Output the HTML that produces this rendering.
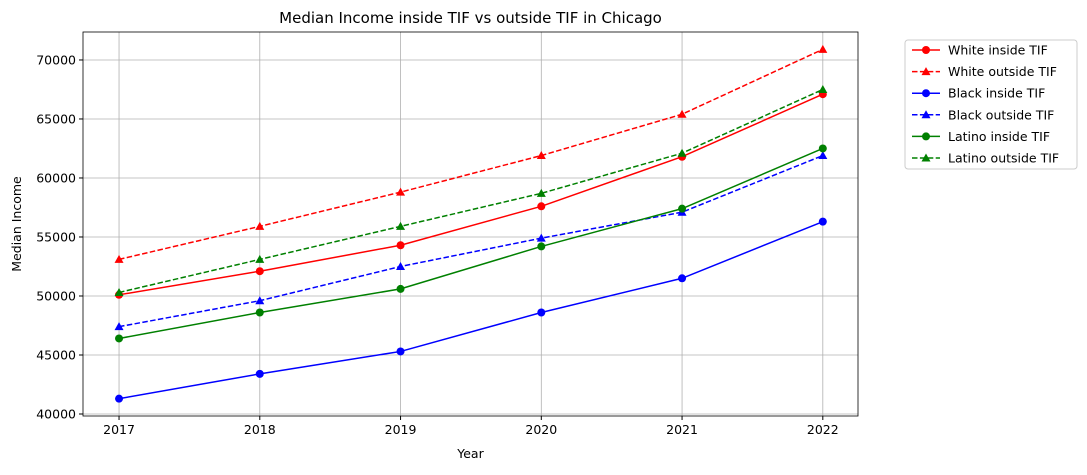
<!DOCTYPE html>
<html><head><meta charset="utf-8"><style>
body{margin:0;background:#fff;font-family:"Liberation Sans","DejaVu Sans",sans-serif}
svg text{font-family:"DejaVu Sans","Liberation Sans",sans-serif}
</style></head><body>
<svg id="chart" width="1087" height="470" xmlns="http://www.w3.org/2000/svg"></svg>
<script>
const years=[2017,2018,2019,2020,2021,2022];
const whiteInside=[50100,52100,54300,57600,61800,67100];
const whiteOutside=[53100,55900,58800,61900,65400,70900];
const blackInside=[41300,43400,45300,48600,51500,56300];
const blackOutside=[47400,49600,52500,54900,57100,61900];
const latinoInside=[46400,48600,50600,54200,57400,62500];
const latinoOutside=[50300,53100,55900,58700,62100,67500];
const yTicks=[40000,45000,50000,55000,60000,65000,70000];
const seriesNames=["White inside TIF","White outside TIF","Black inside TIF","Black outside TIF","Latino inside TIF","Latino outside TIF"];
const seriesData=[whiteInside,whiteOutside,blackInside,blackOutside,latinoInside,latinoOutside];
const colors=["red","red","blue","blue","green","green"];
const dashed=[false,true,false,true,false,true];

const L=83,R=858,T=32,B=416;
const xMin=2016.744,xMax=2022.25,yMin=39830,yMax=72370;
const sx=v=>L+(v-xMin)/(xMax-xMin)*(R-L);
const sy=v=>B-(v-yMin)/(yMax-yMin)*(B-T);
const svg=document.getElementById('chart');
const NS="http://www.w3.org/2000/svg";
function mk(tag,attrs,parent){const e=document.createElementNS(NS,tag);for(const k in attrs)e.setAttribute(k,attrs[k]);(parent||svg).appendChild(e);return e;}

const grid=mk('g',{});


years.forEach(y=>{mk('line',{x1:sx(y),x2:sx(y),y1:T,y2:B,stroke:'#b0b0b0','stroke-width':0.8},grid);});
yTicks.forEach(v=>{mk('line',{x1:L,x2:R,y1:sy(v),y2:sy(v),stroke:'#b0b0b0','stroke-width':0.8},grid);});

const xa=mk('g',{});


years.forEach(y=>{mk('line',{x1:sx(y),x2:sx(y),y1:B,y2:B+4,stroke:'#000'},xa);
const t=mk('text',{x:sx(y),y:B+18,'text-anchor':'middle','font-size':12.5},xa);t.textContent=y;});
const ya=mk('g',{});


yTicks.forEach(v=>{mk('line',{x1:L-4,x2:L,y1:sy(v),y2:sy(v),stroke:'#000'},ya);
const t=mk('text',{x:L-7,y:sy(v)+4.5,'text-anchor':'end','font-size':12.5},ya);t.textContent=v;});

for(let i=0;i<seriesData.length;i++){
 const g=mk('g',{});
 
 
 const pts=years.map((y,j)=>sx(y)+','+sy(seriesData[i][j])).join(' ');
 mk('polyline',{points:pts,fill:'none',stroke:colors[i],'stroke-width':1.5,'stroke-dasharray':dashed[i]?'5.5,2.4':''},g);
 years.forEach((y,j)=>{
  const cx=sx(y),cy=sy(seriesData[i][j]);
  if(dashed[i]) mk('polygon',{points:`${cx},${cy-4.5} ${cx-4.5},${cy+3.5} ${cx+4.5},${cy+3.5}`,fill:colors[i]},g);
  else mk('circle',{cx,cy,r:4,fill:colors[i]},g);
 });
}
mk('rect',{x:L,y:T,width:R-L,height:B-T,fill:'none',stroke:'#000','stroke-width':0.8});

const title=mk('text',{x:(L+R)/2,y:23,'text-anchor':'middle','font-size':15});


title.textContent='Median Income inside TIF vs outside TIF in Chicago';
const xt=mk('text',{x:(L+R)/2,y:458,'text-anchor':'middle','font-size':12.5});


xt.textContent='Year';
const yt=mk('text',{x:0,y:0,'text-anchor':'middle','font-size':12.5,transform:`translate(21,${(T+B)/2}) rotate(-90)`});


yt.textContent='Median Income';

const lg=mk('g',{});


mk('rect',{x:905,y:40,width:172,height:129,rx:3,fill:'#fff',stroke:'#ccc'},lg);
seriesNames.forEach((n,i)=>{
 const e=mk('g',{},lg);
 
 
 const y=50+i*21.6;
 mk('line',{x1:912,x2:940,y1:y,y2:y,stroke:colors[i],'stroke-width':1.5,'stroke-dasharray':dashed[i]?'5.5,2.4':''},e);
 if(dashed[i]) mk('polygon',{points:`926,${y-4.5} 921.5,${y+3.5} 930.5,${y+3.5}`,fill:colors[i]},e);
 else mk('circle',{cx:926,cy:y,r:4,fill:colors[i]},e);
 const t=mk('text',{x:948,y:y+4.5,'font-size':12.5},e);t.textContent=n;
});
</script>
</body></html>
